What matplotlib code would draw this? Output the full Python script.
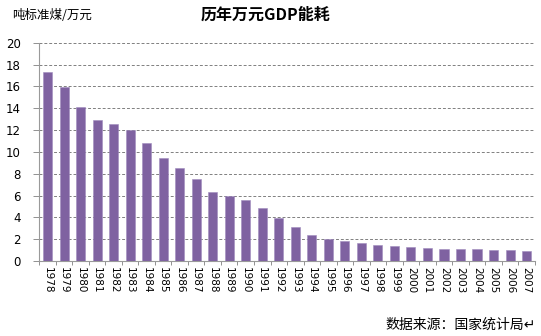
import numpy as np
import matplotlib.pyplot as plt

plt.rcParams['font.family'] = ['Noto Sans CJK SC', 'DejaVu Sans']

years = [str(y) for y in range(1978, 2008)]
energy_per_gdp = [17.27, 15.96, 14.10, 12.90, 12.54, 12.00, 10.80, 9.45, 8.53, 7.50,
                  6.35, 5.92, 5.60, 4.85, 3.98, 3.15, 2.40, 2.05, 1.80, 1.62,
                  1.47, 1.38, 1.28, 1.22, 1.14, 1.14, 1.13, 1.04, 0.98, 0.89]
y_ticks = list(range(0, 21, 2))

fig = plt.figure(figsize=(5.41, 3.36), dpi=100)
ax = fig.add_axes([0.0726, 0.223, 0.916, 0.650])

x = np.arange(len(years))
ax.bar(x, energy_per_gdp, width=0.55, color='#7F62A1', edgecolor='#A08BBE', linewidth=0.4, zorder=3)

ax.set_xlim(-0.5, len(years) - 0.5)
ax.set_ylim(0, 20)
ax.set_yticks(y_ticks)
ax.set_yticklabels([str(v) for v in y_ticks], fontsize=8.5, family='DejaVu Sans')
ax.set_xticks(x)
ax.set_xticklabels(years, rotation=-90, fontsize=7.5, family='DejaVu Sans')
ax.set_xticks(np.arange(-0.5, len(years), 1), minor=True)
ax.tick_params(axis='x', which='major', length=0, pad=4)
ax.tick_params(axis='x', which='minor', length=3, color='#808080', width=0.6)
ax.tick_params(axis='y', length=4.5, color='#808080', width=0.6, pad=9)

ax.yaxis.grid(True, linestyle=(0, (3, 2)), color='#808080', linewidth=0.7, zorder=0)
for s in ['top', 'right']:
    ax.spines[s].set_visible(False)
ax.spines['left'].set_color('#9A9A9A')
ax.spines['bottom'].set_color('#9A9A9A')

fig.text(0.49, 0.957, '历年万元GDP能耗', ha='center', va='center', fontsize=11.5, fontweight='bold')
fig.text(0.022, 0.953, '吨标准煤/万元', ha='left', va='center', fontsize=9)
fig.text(0.99, 0.032, '数据来源：国家统计局↵', ha='right', va='center', fontsize=10, style='italic',
         family=['Noto Sans CJK SC', 'DejaVu Sans'])

fig.savefig('out.png', dpi=100)
